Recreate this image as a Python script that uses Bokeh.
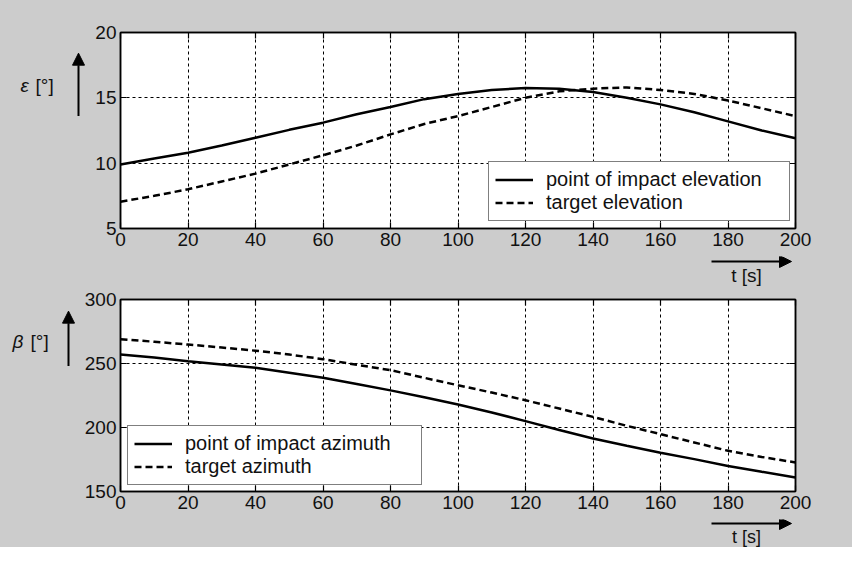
from bokeh.plotting import figure
from bokeh.models import (FixedTicker, LinearAxis, Label, Arrow, NormalHead, Legend, LegendItem, Range1d)
from bokeh.layouts import column, row
from bokeh.embed import file_html
from bokeh.resources import INLINE

t = [0, 10, 20, 30, 40, 50, 60, 70, 80, 90, 100, 110, 120, 130, 140, 150, 160, 170, 180, 190, 200]
impact_elev = [9.9, 10.35, 10.8, 11.35, 11.95, 12.55, 13.1, 13.75, 14.3, 14.9, 15.3, 15.6, 15.75, 15.7, 15.45, 15.0, 14.5, 13.9, 13.2, 12.5, 11.9]
target_elev = [7.05, 7.5, 8.0, 8.6, 9.2, 9.9, 10.6, 11.35, 12.2, 13.0, 13.6, 14.3, 15.0, 15.5, 15.7, 15.8, 15.6, 15.3, 14.8, 14.2, 13.6]
impact_azim = [257, 254.7, 251.8, 249.2, 246.6, 242.7, 238.8, 234, 229, 223.7, 218, 211.7, 205, 198, 191.4, 185.7, 180.2, 175.3, 170, 165.4, 161]
target_azim = [269, 267, 264.8, 262.5, 260, 257, 253.4, 249, 244.8, 238.8, 233, 227.3, 221.3, 214.8, 208.3, 201.3, 194.8, 188.3, 181.8, 177, 172.7]

x_ticks = [0, 20, 40, 60, 80, 100, 120, 140, 160, 180, 200]
elev_ticks = [5, 10, 15, 20]
azim_ticks = [150, 200, 250, 300]

FONT = "Liberation Sans"
BG = "#cccccc"
TXT = "#111111"
FS = "19px"
W = 852


def style_axis(ax, ticker, labels=True):
    ax.ticker = FixedTicker(ticks=ticker)
    ax.major_tick_in = 6
    ax.major_tick_out = 0
    ax.minor_tick_line_color = None
    ax.axis_line_color = "black"
    ax.axis_line_width = 1.5
    ax.major_tick_line_color = "black"
    ax.major_tick_line_width = 1.2
    if labels:
        ax.major_label_text_font = FONT
        ax.major_label_text_font_size = FS
        ax.major_label_text_color = TXT
        ax.major_label_standoff = 4
    else:
        ax.major_label_text_font_size = "0px"
        ax.major_label_standoff = 0


def deco(width, height):
    d = figure(width=width, height=height, output_backend="svg", toolbar_location=None,
               x_range=Range1d(0, width), y_range=Range1d(height, 0),
               x_axis_location=None, y_axis_location=None,
               min_border=0, min_border_left=0, min_border_right=0,
               min_border_top=0, min_border_bottom=0)
    d.grid.visible = False
    d.outline_line_color = None
    d.background_fill_color = BG
    d.border_fill_color = BG
    return d


def arrow(d, x0, y0, x1, y1):
    d.add_layout(Arrow(end=NormalHead(size=12, fill_color="black", line_color="black", line_width=1),
                       x_start=x0, y_start=y0, x_end=x1, y_end=y1,
                       line_width=2, line_color="black"))


def text(d, x, y, s, italic=False, align="left", size=FS):
    d.add_layout(Label(x=x, y=y, text=s, text_font=FONT, text_font_size=size,
                       text_font_style="italic" if italic else "normal",
                       text_color=TXT, text_align=align, text_baseline="middle"))


def make_fig(width, height, left, top, bottom, yr, yticks, s1, s2, n1, n2, leg_xy, lw):
    p = figure(width=width, height=height, output_backend="svg", toolbar_location=None,
               x_range=Range1d(0, 200), y_range=Range1d(*yr),
               min_border_left=left, min_border_right=57, min_border_top=top, min_border_bottom=bottom)
    p.background_fill_color = "white"
    p.border_fill_color = BG
    p.outline_line_color = "black"
    p.outline_line_width = 1.5
    style_axis(p.xaxis[0], x_ticks)
    style_axis(p.yaxis[0], yticks)
    p.add_layout(LinearAxis(), "above")
    p.add_layout(LinearAxis(), "right")
    style_axis(p.above[0], x_ticks, labels=False)
    style_axis(p.right[0], yticks, labels=False)
    p.xgrid[0].ticker = FixedTicker(ticks=x_ticks)
    p.ygrid[0].ticker = FixedTicker(ticks=yticks)
    for g in (p.xgrid[0], p.ygrid[0]):
        g.grid_line_color = "black"
        g.grid_line_width = 1
        g.grid_line_dash = "3 3"
    r1 = p.line(t, s1, line_color="black", line_width=2.5)
    r2 = p.line(t, s2, line_color="black", line_width=2.5, line_dash="7 4")
    leg = Legend(items=[LegendItem(label=n1, renderers=[r1]), LegendItem(label=n2, renderers=[r2])],
                 location=leg_xy, label_text_font=FONT, label_text_font_size="20px",
                 label_text_color=TXT, glyph_width=38, glyph_height=23, label_height=23,
                 label_width=lw, spacing=0, padding=6, margin=0, label_standoff=13,
                 border_line_color="black", border_line_width=1.5,
                 background_fill_color="white", background_fill_alpha=1.0)
    p.add_layout(leg, "center")
    return p


# ---- top panel ----
H1 = 256
d1 = deco(85, H1)
text(d1, 20, 69, "ε", italic=True)
text(d1, 35, 69, "[°]")
arrow(d1, 78, 109, 78, 27)
p1 = make_fig(W - 85, H1, 35, 32, 28, (5, 20), elev_ticks, impact_elev, target_elev,
              "point of impact elevation", "target elevation", (368, 7), 237)

s1 = deco(W, 32)
arrow(s1, 711, 5, 791, 5)
text(s1, 746, 19, "t [s]", align="center")

# ---- bottom panel ----
H2 = 231
d2 = deco(75, H2)
text(d2, 12, 50, "β", italic=True)
text(d2, 30, 50, "[°]")
arrow(d2, 68, 80, 68, 14)
p2 = make_fig(W - 75, H2, 45, 11, 28, (150, 300), azim_ticks, impact_azim, target_azim,
              "point of impact azimuth", "target azimuth", (7, 6), 230)

s2 = deco(W, 28)
arrow(s2, 711, 4, 791, 4)
text(s2, 746, 17, "t [s]", align="center", size="18px")

layout = column(row(d1, p1, styles={"background-color": BG}), s1,
                row(d2, p2, styles={"background-color": BG}), s2,
                styles={"background-color": BG})
open("out.html", "w").write(file_html(layout, INLINE))
